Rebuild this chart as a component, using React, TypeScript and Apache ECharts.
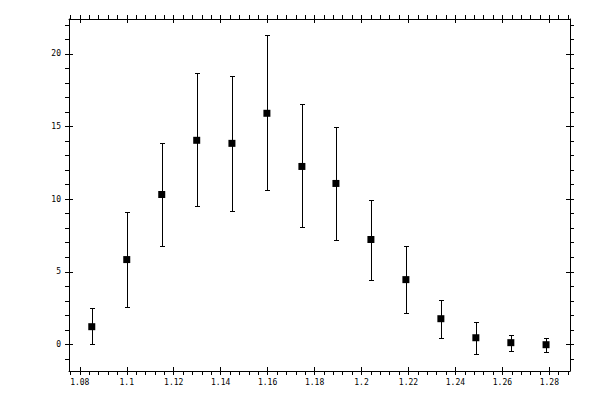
import React, { useEffect, useRef } from "react";
import * as echarts from "echarts";

const xValues = [1.0851, 1.1, 1.1149, 1.1298, 1.1448, 1.1597, 1.1746, 1.1891, 1.204, 1.2189, 1.2338, 1.2487, 1.2636, 1.2786];
const yValues = [1.22, 5.84, 10.32, 14.05, 13.84, 15.91, 12.25, 11.08, 7.22, 4.46, 1.77, 0.46, 0.12, -0.02];
const yUpper = [2.53, 9.12, 13.88, 18.67, 18.46, 21.29, 16.53, 14.94, 9.91, 6.74, 3.08, 1.57, 0.62, 0.46];
const yLower = [0.0, 2.6, 6.74, 9.52, 9.15, 10.6, 8.05, 7.22, 4.46, 2.19, 0.46, -0.64, -0.44, -0.51];

const xTicks = [1.08, 1.1, 1.12, 1.14, 1.16, 1.18, 1.2, 1.22, 1.24, 1.26, 1.28];
const yTicks = [0, 5, 10, 15, 20];

const X_MIN = 1.0754;
const X_MAX = 1.2888;
const Y_MIN = -1.83;
const Y_MAX = 22.4;

const FONT = "DejaVu Sans Mono";

function makeX(position: "bottom" | "top", main: boolean, inside: boolean) {
  return {
    type: "value",
    position,
    min: X_MIN,
    max: X_MAX,
    splitNumber: 10,
    axisLine: { show: main, onZero: false, lineStyle: { color: "#000", width: 1 } },
    axisTick: {
      show: true,
      inside,
      length: 4,
      customValues: xTicks,
      lineStyle: { color: "#000", width: 1 },
    },
    minorTick: {
      show: main,
      splitNumber: 5,
      length: 4,
      lineStyle: { color: "#000", width: 1 },
    },
    axisLabel: {
      show: main && position === "bottom",
      customValues: xTicks,
      margin: 7,
      fontFamily: FONT,
      fontSize: 8,
      color: "#000",
    },
    splitLine: { show: false },
    minorSplitLine: { show: false },
  };
}

function makeY(position: "left" | "right", main: boolean, inside: boolean) {
  return {
    type: "value",
    position,
    min: Y_MIN,
    max: Y_MAX,
    splitNumber: 5,
    axisLine: { show: main, onZero: false, lineStyle: { color: "#000", width: 1 } },
    axisTick: {
      show: true,
      inside,
      length: 4,
      customValues: yTicks,
      lineStyle: { color: "#000", width: 1 },
    },
    minorTick: {
      show: main,
      splitNumber: 5,
      length: 4,
      lineStyle: { color: "#000", width: 1 },
    },
    axisLabel: {
      show: main && position === "left",
      customValues: yTicks,
      margin: 8,
      fontFamily: FONT,
      fontSize: 8,
      color: "#000",
    },
    splitLine: { show: false },
    minorSplitLine: { show: false },
  };
}

export default function App() {
  const ref = useRef<HTMLDivElement>(null);

  useEffect(() => {
    document.body.style.margin = "0";
    if (!ref.current) return;
    const chart = echarts.init(ref.current, null, { renderer: "svg" });

    const points = xValues.map((x, i) => [x, yValues[i]]);
    const bars = xValues.map((x, i) => [x, yLower[i], yUpper[i]]);

    chart.setOption({
      animation: false,
      backgroundColor: "#fff",
      grid: { left: 69, top: 19, right: 30, bottom: 29, containLabel: false },
      xAxis: [
        makeX("bottom", true, false),
        makeX("bottom", false, true),
        makeX("top", true, false),
        makeX("top", false, true),
      ],
      yAxis: [
        makeY("left", true, false),
        makeY("left", false, true),
        makeY("right", true, false),
        makeY("right", false, true),
      ],
      series: [
        {
          type: "custom",
          xAxisIndex: 0,
          yAxisIndex: 0,
          data: bars,
          renderItem: (params: any, api: any) => {
            const x = api.value(0);
            const lo = api.value(1);
            const hi = api.value(2);
            const top = api.coord([x, hi]);
            const bot = api.coord([x, lo]);
            const cx = Math.round(top[0]) + 0.5;
            const ty = Math.round(top[1]) + 0.5;
            const by = Math.round(bot[1]) + 0.5;
            const hw = 2.5;
            const st = { stroke: "#000", lineWidth: 1 };
            return {
              type: "group",
              children: [
                { type: "line", shape: { x1: cx, y1: ty, x2: cx, y2: by }, style: st },
                { type: "line", shape: { x1: cx - hw, y1: ty, x2: cx + hw, y2: ty }, style: st },
                { type: "line", shape: { x1: cx - hw, y1: by, x2: cx + hw, y2: by }, style: st },
              ],
            };
          },
        },
        {
          type: "scatter",
          xAxisIndex: 0,
          yAxisIndex: 0,
          data: points,
          symbol: "rect",
          symbolSize: 7,
          itemStyle: { color: "#000", opacity: 1 },
        },
      ],
    });

    return () => chart.dispose();
  }, []);

  return <div ref={ref} style={{ width: 600, height: 400 }} />;
}
